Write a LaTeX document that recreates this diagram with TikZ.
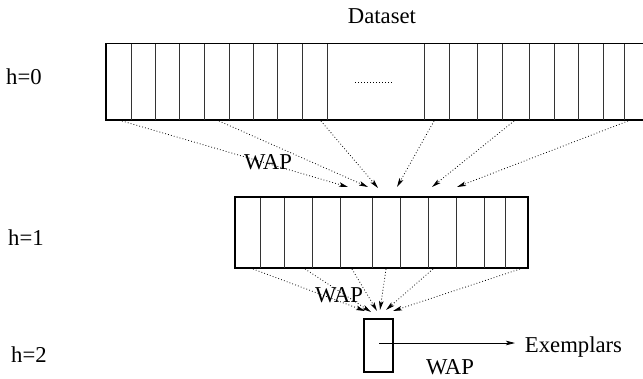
\documentclass[tikz,border=0pt]{standalone}
\usepackage{fontspec}
\setmainfont{Liberation Serif}
\usetikzlibrary{arrows.meta}
\begin{document}
\begin{tikzpicture}[x=1pt,y=-1pt,
  box/.style={draw, line width=1.3pt, inner sep=0pt, outer sep=0pt, anchor=north west},
  cell/.style={line width=0.9pt, black!80},
  dotline/.style={line width=0.8pt, dash pattern=on 0.8pt off 2.2pt},
  flow/.style={dotline, -{Stealth[length=9pt,width=4.5pt,inset=2pt]}},
  solidflow/.style={line width=0.8pt, -{Stealth[length=9pt,width=4.5pt,inset=2pt]}},
  lbl/.style={font=\fontsize{22.7}{27}\selectfont, inner sep=0pt, anchor=base, text depth=0pt}]
\useasboundingbox (0,0) rectangle (643,378);
\clip (0,0) rectangle (643,378);

% boxes
\node[box, minimum width=546pt, minimum height=76.5pt] (top) at (106,43.5) {};
\node[box, minimum width=293pt, minimum height=71pt] (mid) at (235,197) {};
\node[box, minimum width=29pt, minimum height=53pt] (leaf) at (364,319) {};

% cells
\foreach \x in {131,155,179,204,229,253,277,302,327,424,449,477,502,529,554,578,603,624}
  \draw[cell] (\x,44) -- (\x,119.5);
\foreach \x in {260,284,312,340,372,400,428,456,484,505}
  \draw[cell] (\x,197.5) -- (\x,267.5);
\draw[dotline] (355,82) -- (393,82);

% labels
\node[lbl] (ds) at (382,23) {Dataset};
\node[lbl] (h0) at (24,84) {h=0};
\node[lbl] (h1) at (26,245) {h=1};
\node[lbl] (h2) at (29,362) {h=2};
\node[lbl] (w0) at (268,169) {WAP};
\node[lbl] (w1) at (339,302) {WAP};
\node[lbl] (w2) at (450,374) {WAP};
\node[lbl] (ex) at (573.5,352) {Exemplars};

% level 0 -> level 1
\coordinate (a1) at (122,121);  \coordinate (b1) at (348,187);
\coordinate (a2) at (219,121);  \coordinate (b2) at (368,187);
\coordinate (a3) at (321,121);  \coordinate (b3) at (378,188);
\coordinate (a4) at (434,121);  \coordinate (b4) at (397,187);
\coordinate (a5) at (514,121);  \coordinate (b5) at (432,187);
\coordinate (a6) at (628,121);  \coordinate (b6) at (457,187);
\foreach \i in {1,...,6} \draw[flow] (a\i) -- (b\i);

% level 1 -> level 2
\coordinate (c1) at (253,269);  \coordinate (d1) at (365,311);
\coordinate (c2) at (305,269);  \coordinate (d2) at (371,312);
\coordinate (c3) at (352,269);  \coordinate (d3) at (377,311);
\coordinate (c4) at (386,269);  \coordinate (d4) at (380,310);
\coordinate (c5) at (433,269);  \coordinate (d5) at (386,310);
\coordinate (c6) at (520,269);  \coordinate (d6) at (393,311);
\foreach \i in {1,...,6} \draw[flow] (c\i) -- (d\i);

% exemplars
\coordinate (e0) at (379,343);
\coordinate (e1) at (515,343);
\draw[solidflow] (e0) -- (e1);
\end{tikzpicture}
\end{document}
